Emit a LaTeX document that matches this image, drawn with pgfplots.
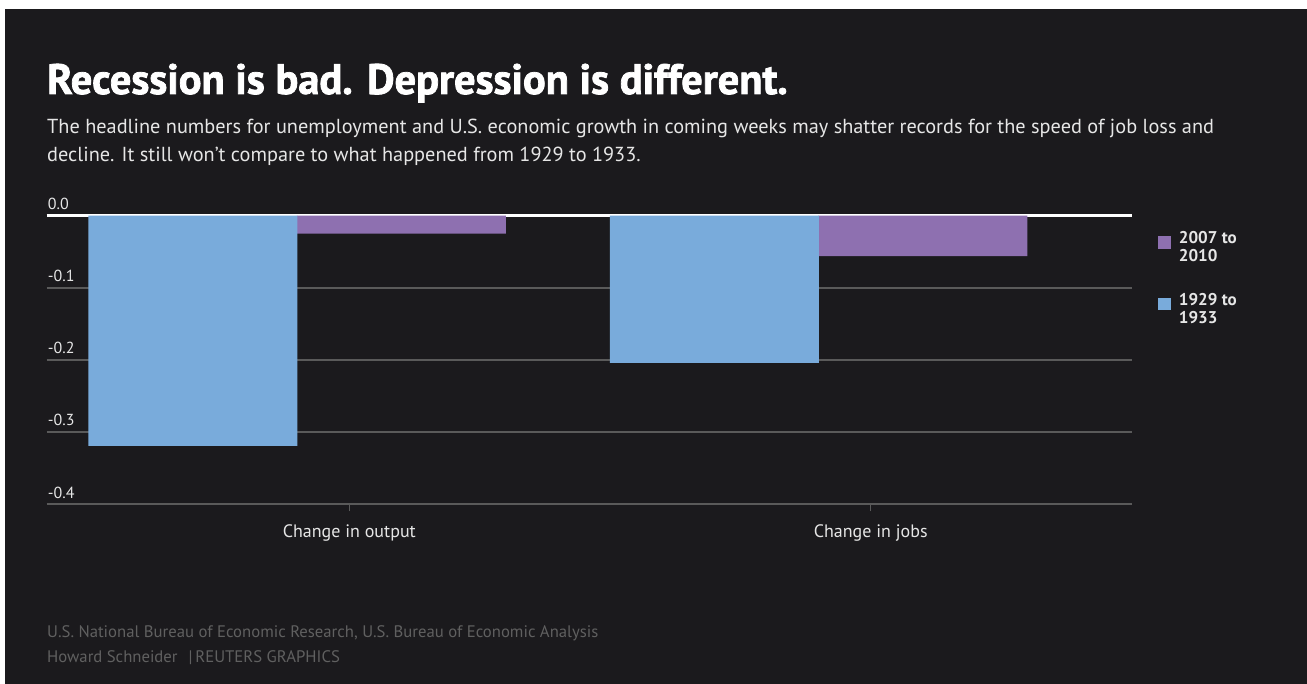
\documentclass[border=0pt]{standalone}
\usepackage{pgfplots}
\pgfplotsset{compat=1.18}
\usepackage{fontspec}
\setmainfont{PT Sans}
\newfontfamily\titlefont{PT Sans}[BoldFeatures={FakeBold=1.8}]
\definecolor{bg}{HTML}{1B1A1D}
\definecolor{blueb}{HTML}{79ABDB}
\definecolor{purp}{HTML}{8E70B0}
\definecolor{gridc}{HTML}{5A5A5A}
\definecolor{txt}{HTML}{E6E6E6}
\definecolor{foot}{HTML}{606060}
\begin{document}
\begin{tikzpicture}[x=1pt,y=1pt]
\fill[white] (0,0) rectangle (1307,-684);
\fill[bg] (5,-9) rectangle (1307,-684);
\path[use as bounding box] (0,0) rectangle (1307,-684);
\node[anchor=base west, inner sep=0pt, text=white, font=\fontsize{42.5}{45}\titlefont\bfseries] at (47,-94) {Recession is bad. Depression is different.};
\node[anchor=base west, inner sep=0pt, text=txt, font=\fontsize{20.3}{22}\selectfont] at (47,-134) {The headline numbers for unemployment and U.S. economic growth in coming weeks may shatter records for the speed of job loss and};
\node[anchor=base west, inner sep=0pt, text=txt, font=\fontsize{20.3}{22}\selectfont] at (47,-162) {decline. It still won't compare to what happened from 1929 to 1933.};
\node[anchor=base west, inner sep=0pt, text=foot, font=\fontsize{16.7}{18}\selectfont] at (47,-637) {U.S. National Bureau of Economic Research, U.S. Bureau of Economic Analysis};
\node[anchor=base west, inner sep=0pt, text=foot, font=\fontsize{16.7}{18}\selectfont] at (47,-662) {Howard Schneider\hspace{11pt}\textbar\,REUTERS GRAPHICS};
\begin{axis}[
  at={(46.7pt,-504.4pt)}, anchor=south west,
  scale only axis, width=1085.6pt, height=288.7pt,
  xmin=-0.5804, xmax=1.5017, ymin=-0.4, ymax=0,
  clip=false,
  ybar, bar width=209pt,
  axis line style={draw=none},
  xtick={0,1}, xticklabels={Change in output, Change in jobs},
  ytick={-0.4,-0.3,-0.2,-0.1}, yticklabels={-0.4,-0.3,-0.2,-0.1},
  extra y ticks={0}, extra y tick labels={0.0},
  extra y tick style={major grid style={draw=white, line width=2.5pt}},
  ymajorgrids, major grid style={gridc, line width=2pt},
  tick align=outside, xtick pos=bottom, ytick pos=left,
  major tick length=7pt,
  xtick style={draw=gridc, line width=1pt},
  ytick style={draw=none},
  yticklabel style={anchor=south west, inner sep=0pt, xshift=8pt, yshift=6pt, font=\fontsize{16}{16}\selectfont, text=txt},
  xticklabel style={font=\fontsize{18}{18}\selectfont, text=txt, inner sep=0pt, yshift=-13pt},
  legend style={at={(rel axis cs:1.0237,0.945)}, anchor=north west, draw=none, fill=none,
    text=txt, font=\fontsize{17}{18}\selectfont\bfseries,
    cells={anchor=west, align=left}, row sep=30pt, inner sep=0pt,
    nodes={inner sep=0pt},
    /tikz/every odd column/.append style={column sep=8pt}},
  legend image code/.code={\fill[#1] (0pt,-1pt) rectangle (12.7pt,11.7pt);},
]
\addplot[fill=purp, draw=none, bar shift=0pt] coordinates {(0.1,-0.025) (1.1,-0.056)};
\addlegendentry{2007 to\\2010}
\addplot[fill=blueb, draw=none, bar shift=0pt] coordinates {(-0.3,-0.319) (0.7,-0.204)};
\addlegendentry{1929 to\\1933}
\end{axis}
\end{tikzpicture}
\end{document}
